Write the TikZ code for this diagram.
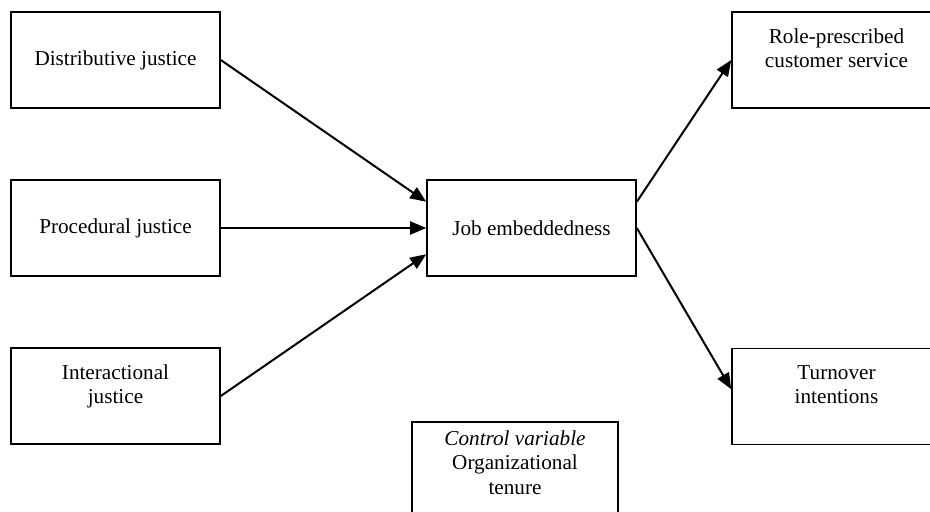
\documentclass[tikz,border=0pt]{standalone}
\usepackage{fontspec}
\setmainfont{Liberation Serif}
\usetikzlibrary{arrows.meta}
\tikzset{
  box/.style={draw, line width=0.8pt, minimum width=104.5pt, minimum height=48pt,
    align=center, inner sep=2pt, font=\fontsize{10.6}{12.2}\selectfont},
  twoline/.style={text depth=12pt},
  link/.style={-{Triangle[length=8pt,width=6.5pt]}, line width=1pt},
}
\begin{document}
\begin{tikzpicture}[x=0.5pt, y=-0.5pt]
	\useasboundingbox (0,0) rectangle (930,511);
	\clip (0,0) rectangle (930,511);
	
	% --- justice ---
	\node[box] (dist) at (115.5,60) {Distributive justice};
	\node[box] (proc) at (115.5,228) {Procedural justice};
	\node[box, twoline] (inter) at (115.5,396) {Interactional\\justice};
	
	% --- mediator ---
	\node[box] (embed) at (531.5,228) {Job embeddedness};
	
	% --- outcomes ---
	\node[box, twoline] (role) at (836.5,60) {Role-prescribed\\customer service};
	\node[box, twoline] (turn) at (836.5,396.5) {Turnover\\intentions};
	
	% --- control ---
	\node[box, minimum width=103pt, minimum height=50pt, text depth=9.5pt] (tenure) at (515,472)
		{\textit{Control variable}\\Organizational\\tenure};
	
	\draw[link] (dist.east) -- (embed.166);
	\draw[link] (proc.east) -- (embed.west);
	\draw[link] (inter.east) -- (embed.194);
	\draw[link] (embed.14) -- (role.west);
	\draw[link] (embed.east) -- (turn.176);
\end{tikzpicture}
\end{document}
